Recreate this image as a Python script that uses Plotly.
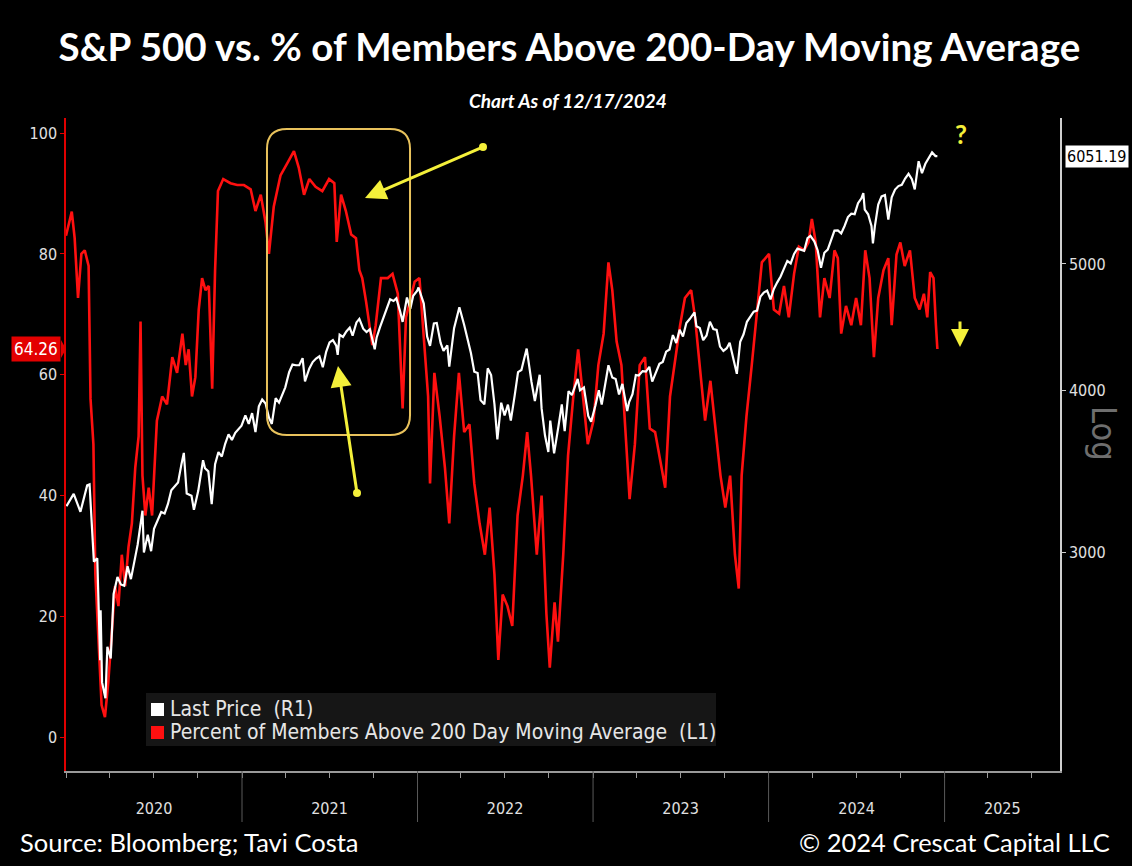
import numpy as np
import plotly.graph_objects as go

# S&P 500 last price (right axis, log)
spx_dates = [
    "2020-01-02", "2020-01-17", "2020-01-31", "2020-02-14", "2020-02-19", "2020-02-28", "2020-03-06",
    "2020-03-12", "2020-03-13", "2020-03-16", "2020-03-23", "2020-03-27", "2020-04-03", "2020-04-09",
    "2020-04-17", "2020-04-24", "2020-05-01", "2020-05-08", "2020-05-15", "2020-05-22", "2020-05-29",
    "2020-06-08", "2020-06-11", "2020-06-19", "2020-06-26", "2020-07-02", "2020-07-10", "2020-07-17",
    "2020-07-24", "2020-07-31", "2020-08-07", "2020-08-14", "2020-08-21", "2020-08-28", "2020-09-02",
    "2020-09-08", "2020-09-18", "2020-09-23", "2020-10-02", "2020-10-12", "2020-10-16", "2020-10-23",
    "2020-10-30", "2020-11-06", "2020-11-13", "2020-11-20", "2020-11-27", "2020-12-04", "2020-12-11",
    "2020-12-18", "2020-12-31",
    "2021-01-08", "2021-01-15", "2021-01-22", "2021-01-29", "2021-02-05", "2021-02-12", "2021-02-19",
    "2021-02-26", "2021-03-04", "2021-03-12", "2021-03-19", "2021-03-26", "2021-04-01", "2021-04-09",
    "2021-04-16", "2021-04-23", "2021-04-30", "2021-05-07", "2021-05-12", "2021-05-21", "2021-05-28",
    "2021-06-04", "2021-06-11", "2021-06-18", "2021-06-25", "2021-07-02", "2021-07-09", "2021-07-16",
    "2021-07-19", "2021-07-23", "2021-07-30", "2021-08-06", "2021-08-13", "2021-08-19", "2021-08-27",
    "2021-09-02", "2021-09-10", "2021-09-17", "2021-09-24", "2021-10-04", "2021-10-08", "2021-10-15",
    "2021-10-22", "2021-10-29", "2021-11-05", "2021-11-12", "2021-11-18", "2021-11-26", "2021-12-01",
    "2021-12-10", "2021-12-17", "2021-12-23", "2021-12-31",
    "2022-01-03", "2022-01-14", "2022-01-21", "2022-01-27", "2022-02-04", "2022-02-10", "2022-02-18",
    "2022-02-24", "2022-03-04", "2022-03-08", "2022-03-18", "2022-03-29", "2022-04-08", "2022-04-14",
    "2022-04-22", "2022-04-29", "2022-05-06", "2022-05-12", "2022-05-20", "2022-05-27", "2022-06-03",
    "2022-06-10", "2022-06-16", "2022-06-24", "2022-07-01", "2022-07-08", "2022-07-14", "2022-07-22",
    "2022-07-29", "2022-08-05", "2022-08-16", "2022-08-26", "2022-09-02", "2022-09-12", "2022-09-16",
    "2022-09-23", "2022-09-30", "2022-10-04", "2022-10-12", "2022-10-21", "2022-10-28", "2022-11-03",
    "2022-11-11", "2022-11-18", "2022-11-30", "2022-12-05", "2022-12-13", "2022-12-22", "2022-12-28",
    "2023-01-06", "2023-01-13", "2023-01-19", "2023-01-27", "2023-02-02", "2023-02-10", "2023-02-17",
    "2023-02-24", "2023-03-03", "2023-03-13", "2023-03-17", "2023-03-24", "2023-03-31", "2023-04-06",
    "2023-04-14", "2023-04-21", "2023-04-28", "2023-05-04", "2023-05-12", "2023-05-19", "2023-05-26",
    "2023-06-02", "2023-06-09", "2023-06-16", "2023-06-23", "2023-06-30", "2023-07-07", "2023-07-14",
    "2023-07-21", "2023-07-31", "2023-08-04", "2023-08-11", "2023-08-18", "2023-08-25", "2023-09-01",
    "2023-09-08", "2023-09-15", "2023-09-22", "2023-09-29", "2023-10-06", "2023-10-12", "2023-10-20",
    "2023-10-27", "2023-11-03", "2023-11-10", "2023-11-17", "2023-11-24", "2023-12-01", "2023-12-08",
    "2023-12-15", "2023-12-22", "2023-12-29",
    "2024-01-05", "2024-01-12", "2024-01-19", "2024-01-26", "2024-02-02", "2024-02-09", "2024-02-16",
    "2024-02-23", "2024-03-01", "2024-03-08", "2024-03-15", "2024-03-22", "2024-03-28", "2024-04-05",
    "2024-04-12", "2024-04-19", "2024-04-26", "2024-05-03", "2024-05-10", "2024-05-17", "2024-05-24",
    "2024-05-31", "2024-06-07", "2024-06-14", "2024-06-21", "2024-06-28", "2024-07-05", "2024-07-12",
    "2024-07-16", "2024-07-19", "2024-07-26", "2024-08-02", "2024-08-05", "2024-08-09", "2024-08-16",
    "2024-08-23", "2024-08-30", "2024-09-06", "2024-09-13", "2024-09-20", "2024-09-27", "2024-10-04",
    "2024-10-11", "2024-10-18", "2024-10-25", "2024-10-31", "2024-11-08", "2024-11-15", "2024-11-22",
    "2024-11-29", "2024-12-06", "2024-12-13", "2024-12-17",
]
spx_close = [
    3258, 3330, 3226, 3380, 3386, 2954, 2972, 2481, 2711, 2386, 2320, 2541, 2489, 2790,
    2875, 2837, 2831, 2930, 2864, 2955, 3044, 3232, 3002, 3098, 3009, 3130, 3185, 3225,
    3216, 3271, 3351, 3373, 3397, 3508, 3580, 3332, 3319, 3237, 3348, 3534, 3484, 3465,
    3270, 3509, 3585, 3557, 3638, 3699, 3663, 3709, 3756,
    3825, 3768, 3841, 3714, 3887, 3934, 3907, 3811, 3768, 3943, 3913, 3975, 4020, 4129,
    4185, 4180, 4181, 4233, 4063, 4156, 4204, 4230, 4247, 4166, 4281, 4352, 4370, 4327,
    4258, 4412, 4395, 4437, 4468, 4405, 4509, 4537, 4459, 4433, 4455, 4300, 4391, 4471,
    4545, 4605, 4697, 4683, 4705, 4595, 4513, 4712, 4620, 4726, 4766,
    4796, 4662, 4398, 4326, 4500, 4504, 4349, 4288, 4329, 4170, 4463, 4632, 4488, 4392,
    4272, 4132, 4123, 3930, 3901, 4158, 4109, 3901, 3667, 3912, 3825, 3899, 3790, 3962,
    4130, 4145, 4305, 4058, 3924, 4110, 3873, 3693, 3586, 3791, 3577, 3752, 3901, 3720,
    3993, 3965, 4080, 3999, 4019, 3822, 3783,
    3895, 3999, 3899, 4071, 4180, 4090, 4079, 3970, 4045, 3855, 3917, 3971, 4109, 4105,
    4137, 4133, 4169, 4061, 4124, 4191, 4205, 4282, 4298, 4409, 4348, 4450, 4398, 4505,
    4536, 4589, 4478, 4464, 4370, 4406, 4515, 4457, 4450, 4320, 4288, 4308, 4349, 4224,
    4117, 4358, 4415, 4514, 4559, 4595, 4604, 4719, 4754, 4770,
    4697, 4784, 4840, 4891, 4959, 5027, 5005, 5089, 5137, 5124, 5117, 5234, 5254, 5204,
    5123, 4967, 5100, 5128, 5223, 5303, 5305, 5278, 5347, 5432, 5465, 5460, 5567, 5615,
    5667, 5505, 5459, 5347, 5186, 5344, 5554, 5634, 5648, 5408, 5626, 5703, 5738, 5751,
    5815, 5864, 5808, 5705, 5996, 5870, 5969, 6032, 6090, 6051, 6051.19,
]

# percent of S&P 500 members above their 200-day moving average (left axis)
pct_dates = [
    "2020-01-01", "2020-01-13", "2020-01-19", "2020-01-26", "2020-02-02", "2020-02-09", "2020-02-17",
    "2020-02-21", "2020-02-27", "2020-03-02", "2020-03-08", "2020-03-15", "2020-03-22", "2020-03-29",
    "2020-04-05", "2020-04-12", "2020-04-19", "2020-04-26", "2020-05-03", "2020-05-10", "2020-05-17",
    "2020-05-24", "2020-05-31", "2020-06-04", "2020-06-08", "2020-06-14", "2020-06-21", "2020-06-28",
    "2020-07-08", "2020-07-19", "2020-07-29", "2020-08-09", "2020-08-19", "2020-08-30", "2020-09-06",
    "2020-09-12", "2020-09-19", "2020-09-26", "2020-10-03", "2020-10-10", "2020-10-17", "2020-10-24",
    "2020-10-31", "2020-11-06", "2020-11-12", "2020-11-23", "2020-12-08", "2020-12-22",
    "2021-01-05", "2021-01-19", "2021-01-29", "2021-02-09", "2021-02-19", "2021-02-26", "2021-03-08",
    "2021-03-22", "2021-04-05", "2021-04-19", "2021-04-29", "2021-05-10", "2021-05-21", "2021-06-03",
    "2021-06-17", "2021-07-01", "2021-07-12", "2021-07-17", "2021-07-26", "2021-08-05", "2021-08-16",
    "2021-08-26", "2021-09-02", "2021-09-08", "2021-09-16", "2021-09-23", "2021-09-29", "2021-10-06",
    "2021-10-17", "2021-10-31", "2021-11-10", "2021-11-21", "2021-12-01", "2021-12-08", "2021-12-26",
    "2022-01-05", "2022-01-16", "2022-01-23", "2022-01-27", "2022-02-05", "2022-02-16", "2022-02-27",
    "2022-03-08", "2022-03-18", "2022-03-28", "2022-04-08", "2022-04-19", "2022-04-29", "2022-05-10",
    "2022-05-21", "2022-05-31", "2022-06-10", "2022-06-18", "2022-06-27", "2022-07-07", "2022-07-17",
    "2022-07-28", "2022-08-08", "2022-08-17", "2022-08-25", "2022-09-06", "2022-09-16", "2022-09-26",
    "2022-10-03", "2022-10-13", "2022-10-20", "2022-10-31", "2022-11-10", "2022-11-21", "2022-12-01",
    "2022-12-11", "2022-12-21",
    "2023-01-02", "2023-01-12", "2023-01-23", "2023-02-02", "2023-02-10", "2023-02-19", "2023-03-01",
    "2023-03-12", "2023-03-18", "2023-03-29", "2023-04-08", "2023-04-19", "2023-04-29", "2023-05-10",
    "2023-05-21", "2023-05-31", "2023-06-10", "2023-06-21", "2023-07-01", "2023-07-11", "2023-07-24",
    "2023-08-01", "2023-08-11", "2023-08-22", "2023-09-02", "2023-09-12", "2023-09-23", "2023-10-03",
    "2023-10-13", "2023-10-23", "2023-10-31", "2023-11-06", "2023-11-16", "2023-11-27", "2023-12-07",
    "2023-12-18",
    "2024-01-02", "2024-01-12", "2024-01-23", "2024-02-02", "2024-02-12", "2024-02-23", "2024-03-04",
    "2024-03-15", "2024-03-24", "2024-03-31", "2024-04-08", "2024-04-17", "2024-04-26", "2024-05-07",
    "2024-05-17", "2024-05-24", "2024-05-31", "2024-06-10", "2024-06-21", "2024-07-01", "2024-07-11",
    "2024-07-20", "2024-07-29", "2024-08-07", "2024-08-16", "2024-08-27", "2024-09-06", "2024-09-13",
    "2024-09-23", "2024-10-01", "2024-10-10", "2024-10-21", "2024-10-31", "2024-11-10", "2024-11-19",
    "2024-11-26", "2024-12-02", "2024-12-09", "2024-12-14", "2024-12-17",
]
pct_above = [
    83, 87, 82.6, 72.7, 80, 80.6, 78, 56, 48.5, 27, 17, 5.3, 3.3, 9.2,
    17, 25, 21.7, 30.2, 25, 31.5, 35.4, 44.6, 49.8, 68.8, 43.3, 36.7, 41.3, 36.7,
    52.4, 56.4, 55.1, 62.9, 60.3, 66.8, 61.6, 64.2, 56.4, 59.6, 70.8, 76, 74, 74.7,
    57.7, 77.3, 90.4, 92.4, 91.7, 91.4,
    91.4, 90.7, 87.1, 89.8, 85.2, 80, 87.8, 93, 95, 97, 94.3, 89.8, 92.4, 91.1,
    90.4, 92.4, 91.7, 82, 89.8, 87.1, 83.2, 82.6, 77.3, 76, 72.1, 68.2, 64.9, 68.2,
    76, 76, 76.7, 73.4, 54.4, 69.5, 75.4,
    76, 62.9, 56.4, 42, 60.3, 53.1, 44.6, 35.4, 49.8, 60.3, 50.5, 51.8, 42, 35.4,
    30.2, 38, 26.9, 12.8, 23.6, 21.7, 18.4, 36.7, 43.3, 50.5, 43.3, 30.2, 40, 20.4,
    11.5, 22.3, 15.8, 30.2, 46.6, 56.4, 64.2, 56.4, 48.5,
    52.4, 61.6, 66.8, 78.6, 74, 65.5, 61.6, 45.9, 39.4, 48.5, 61.6, 62.9, 51.1, 50.5,
    45.9, 41.3, 56.4, 62.9, 68.2, 72.7, 74, 69.5, 61.6, 52.4, 59, 51.1, 43.3, 38,
    43.3, 30.2, 24.6, 43.3, 53.1, 61.6, 69.5, 78.6,
    80, 70.8, 70.1, 74.7, 69.5, 76.7, 81.2, 80.6, 81.9, 85.8, 81.9, 69.5, 76, 72.7,
    80.6, 79.3, 66.8, 71.4, 68.2, 72.7, 68.2, 80.6, 76, 62.9, 72.7, 77.3, 79.3, 68.2,
    79.9, 81.9, 78, 80.6, 72.7, 70.8, 73.4, 69.5, 77, 76, 68.2, 64.26,
]

year_labels = ["2020", "2021", "2022", "2023", "2024", "2025"]
year_label_pos = ["2020-07-02", "2021-07-02", "2022-07-02", "2023-07-02", "2024-07-02", "2025-05-01"]
year_starts = ["2021-01-01", "2022-01-01", "2023-01-01", "2024-01-01", "2025-01-01"]

# plot box in pixels, used to place the hand-drawn callouts
L, R, T, B = 66, 1060, 118, 771
def px(x):
    return (x - L) / (R - L)
def py(y):
    return (B - y) / (B - T)

def rounded_box(x0, y0, x1, y1, r):
    pts = [("M", x0 + r, y0), ("L", x1 - r, y0), ("Q", x1, y0, x1, y0 + r), ("L", x1, y1 - r),
           ("Q", x1, y1, x1 - r, y1), ("L", x0 + r, y1), ("Q", x0, y1, x0, y1 - r),
           ("L", x0, y0 + r), ("Q", x0, y0, x0 + r, y0)]
    out = []
    for p in pts:
        cmd, vals = p[0], p[1:]
        coords = []
        for i in range(0, len(vals), 2):
            coords.append(f"{px(vals[i]):.4f},{py(vals[i+1]):.4f}")
        out.append(cmd + " ".join(coords))
    return " ".join(out) + " Z"

TICKFONT = "DejaVu Sans Condensed, DejaVu Sans"
YELLOW = "#f4f03a"

fig = go.Figure()
fig.add_trace(go.Scatter(x=pct_dates, y=pct_above, mode="lines", yaxis="y",
                         line=dict(color="#ff1010", width=2.6), showlegend=False))
fig.add_trace(go.Scatter(x=spx_dates, y=spx_close, mode="lines", yaxis="y2",
                         line=dict(color="#ffffff", width=2.2), showlegend=False))

shapes = []
for d in year_starts:
    shapes.append(dict(type="line", xref="x", yref="paper", x0=d, x1=d, y0=0, y1=py(822),
                       line=dict(color="#5a5a5a", width=1)))
# legend
shapes.append(dict(type="rect", xref="paper", yref="paper", x0=px(146), x1=px(716), y0=py(746), y1=py(693),
                   fillcolor="#161616", line=dict(width=0), layer="above"))
shapes.append(dict(type="rect", xref="paper", yref="paper", x0=px(151), x1=px(164), y0=py(716), y1=py(703),
                   fillcolor="#ffffff", line=dict(width=0), layer="above"))
shapes.append(dict(type="rect", xref="paper", yref="paper", x0=px(151), x1=px(164), y0=py(739), y1=py(726),
                   fillcolor="#ff1010", line=dict(width=0), layer="above"))
# callout box and arrow tails
shapes.append(dict(type="path", xref="paper", yref="paper", path=rounded_box(267, 129, 410, 435, 20),
                   line=dict(color="#e8c25c", width=2)))
for cx, cy in [(483, 147), (357, 493)]:
    shapes.append(dict(type="circle", xref="paper", yref="paper", x0=px(cx - 4), x1=px(cx + 4),
                       y0=py(cy + 4), y1=py(cy - 4), fillcolor=YELLOW, line=dict(width=0)))
# pointer on the 64.26 tag
shapes.append(dict(type="path", xref="paper", yref="paper",
                   path=f"M{px(61):.4f},{py(340):.4f} L{px(66):.4f},{py(349):.4f} L{px(61):.4f},{py(358):.4f} Z",
                   fillcolor="#e30000", line=dict(width=0)))

def note(text, x, y, size, color="#ffffff", family="Lato", xanchor="center", **kw):
    return dict(text=text, xref="paper", yref="paper", x=px(x), y=py(y), xanchor=xanchor,
                yanchor="middle", showarrow=False, font=dict(family=family, size=size, color=color, **kw))

annotations = [
    note("<i><b>Chart As of 12/17/2024</b></i>", 568, 101, 19),
    note("Source: Bloomberg; Tavi Costa", 18, 842, 25.5, xanchor="left"),
    note("© 2024 Crescat Capital LLC", 1112, 842, 25.5, xanchor="right"),
    note("Last Price  (R1)", 168, 709, 21, color="#e6e6e6", family=TICKFONT, xanchor="left"),
    note("Percent of Members Above 200 Day Moving Average  (L1)", 168, 732, 21, color="#e6e6e6",
         family=TICKFONT, xanchor="left"),
    note("<b>?</b>", 961, 134, 26, color=YELLOW),
    dict(text="Log", xref="paper", yref="paper", x=px(1104), y=py(433), xanchor="center", yanchor="middle",
         textangle=90, showarrow=False, font=dict(family=TICKFONT, size=34, color="#6e6e6e")),
    dict(text="64.26", xref="paper", yref="y", x=0, y=pct_above[-1], xanchor="right", yanchor="middle",
         xshift=-5, showarrow=False, bgcolor="#e30000", borderpad=2,
         font=dict(family=TICKFONT, size=17, color="#ffffff")),
    dict(text="6051.19", xref="paper", yref="y2", x=1, y=np.log10(spx_close[-1]), xanchor="left",
         yanchor="middle", xshift=5, showarrow=False, bgcolor="#ffffff", borderpad=1,
         font=dict(family=TICKFONT, size=16, color="#000000")),
    dict(text="", xref="paper", yref="paper", x=px(365), y=py(198), ax=118, ay=-51, showarrow=True,
         arrowhead=2, arrowsize=1.4, arrowwidth=3, arrowcolor=YELLOW),
    dict(text="", xref="paper", yref="paper", x=px(338), y=py(366), ax=19, ay=127, showarrow=True,
         arrowhead=2, arrowsize=1.4, arrowwidth=3, arrowcolor=YELLOW),
    dict(text="", xref="paper", yref="paper", x=px(960), y=py(347), ax=0, ay=-27, showarrow=True,
         arrowhead=2, arrowsize=1.2, arrowwidth=3, arrowcolor=YELLOW),
]

fig.update_layout(
    width=1132, height=866,
    margin=dict(l=L, r=1132 - R, t=T, b=866 - B),
    paper_bgcolor="#000000", plot_bgcolor="#000000",
    title=dict(text="<b>S&P 500 vs. % of Members Above 200-Day Moving Average</b>", x=0.503, xanchor="center",
               y=1 - 48 / 866, yanchor="middle", font=dict(family="Lato", size=38.5, color="#ffffff")),
    xaxis=dict(type="date", range=["2020-01-01", "2025-08-29"], showgrid=False, zeroline=False,
               showline=True, linecolor="#9a9a9a", linewidth=1.5,
               tickvals=year_label_pos, ticktext=year_labels, ticks="", ticklabelstandoff=22,
               tickfont=dict(family=TICKFONT, size=16, color="#e0e0e0"),
               minor=dict(dtick="M3", tick0="2020-01-01", ticks="outside", ticklen=5, tickcolor="#9a9a9a")),
    yaxis=dict(range=[-5.6, 102.5], tickvals=[0, 20, 40, 60, 80, 100], showgrid=False, zeroline=False,
               showline=True, linecolor="#e00000", linewidth=1.5, ticks="outside", ticklen=4,
               tickcolor="#e00000", tickfont=dict(family=TICKFONT, size=16, color="#e0e0e0")),
    yaxis2=dict(type="log", overlaying="y", side="right", range=[np.log10(2040), np.log10(6472)],
                tickvals=[3000, 4000, 5000], ticktext=["3000", "4000", "5000"], showgrid=False,
                zeroline=False, showline=True, linecolor="#cfcfcf", linewidth=1.5, ticks="outside",
                ticklen=4, tickcolor="#cfcfcf", tickfont=dict(family=TICKFONT, size=16, color="#e0e0e0")),
    shapes=shapes,
    annotations=annotations,
)

# drop the page margin so the 1132x866 figure fills the window
fig.write_html("out.html", config={"displayModeBar": False},
               post_script="document.body.style.margin='0';document.body.style.background='#000';")
